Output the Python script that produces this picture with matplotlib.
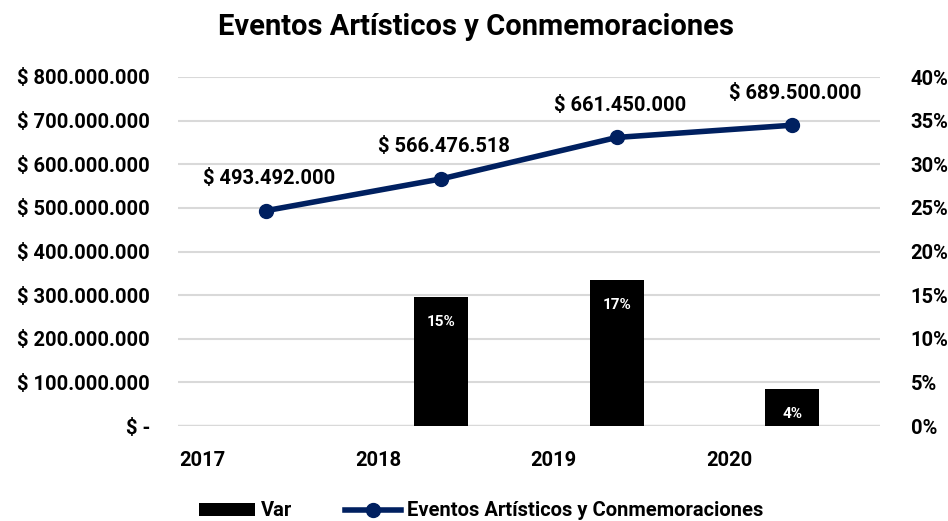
import matplotlib
matplotlib.use("Agg")
import matplotlib.pyplot as plt
from matplotlib.ticker import FuncFormatter, MultipleLocator, FixedLocator
from matplotlib.patches import Patch
from matplotlib.lines import Line2D
import numpy as np

years = ["2017", "2018", "2019", "2020"]
eventos = [493492000, 566476518, 661450000, 689500000]
var = [np.nan, 0.1479, 0.1677, 0.0424]
var_labels = ["", "15%", "17%", "4%"]
title = "Eventos Artísticos y Conmemoraciones"

plt.rcParams['font.family'] = ['Roboto', 'DejaVu Sans']
plt.rcParams['font.weight'] = 'bold'

navy = "#002060"
grid_c = "#d9d9d9"
FS = 14.5

fig = plt.figure(figsize=(9.48, 5.21), dpi=100)
ax = fig.add_axes([178/948, 1-426/521, 702/948, 349/521])
ax2 = ax.twinx()

x = np.arange(len(years))

# bars on secondary axis
ax2.bar(x, var, width=0.31, color="black", zorder=2)
for xi, v, lab in zip(x, var, var_labels):
    if lab:
        ax2.annotate(lab, (xi, v), xytext=(0, -25), textcoords="offset pixels",
                     ha="center", va="center", color="white", fontsize=11, fontweight="bold")
ax2.set_ylim(0, 0.40)
ax2.yaxis.set_major_locator(MultipleLocator(0.05))
ax2.yaxis.set_major_formatter(FuncFormatter(lambda v, p: f"{v*100:.0f}%"))

# line on primary axis
ax.set_zorder(ax2.get_zorder() + 1)
ax.patch.set_visible(False)
ax.plot(x, eventos, color=navy, lw=4, marker="o", ms=10, zorder=3)
for xi, v in zip(x, eventos):
    s = "$ " + f"{v:,.0f}".replace(",", ".")
    ax.annotate(s, (xi, v), xytext=(3, 32), textcoords="offset pixels",
                ha="center", va="center", fontsize=FS, fontweight="bold", color="black")
ax.set_ylim(0, 800000000)
ax.yaxis.set_major_locator(MultipleLocator(100000000))
ax.yaxis.set_major_formatter(FuncFormatter(
    lambda v, p: "$ -" if v == 0 else "$ " + f"{v:,.0f}".replace(",", ".")))
ax.set_xlim(-0.5, len(years) - 0.5)
ax2.set_xlim(-0.5, len(years) - 0.5)

for gv in np.arange(0.05, 0.401, 0.05):
    ax2.axhline(gv, color=grid_c, lw=1.5, zorder=0)
ax2.axhline(0, color=grid_c, lw=2.5, zorder=1)

ax.xaxis.set_major_locator(FixedLocator(x - 0.36))
ax.set_xticklabels(years)
for a in (ax, ax2):
    for sp in a.spines.values():
        sp.set_visible(False)
ax.tick_params(axis="y", which="both", length=0, labelsize=FS, pad=20)
ax.tick_params(axis="x", which="both", length=0, labelsize=FS, pad=18)
ax2.tick_params(axis="y", which="both", length=0, labelsize=FS, pad=22)
for lab in ax.get_yticklabels() + ax.get_xticklabels() + ax2.get_yticklabels():
    lab.set_fontweight("bold")

fig.text(476/948, 1-27/521, title, ha="center", va="center", fontsize=21, fontweight="bold")

handles = [Patch(facecolor="black"),
           Line2D([0], [0], color=navy, lw=4, marker="o", ms=10)]
leg = fig.legend(handles, ["Var", "Eventos Artísticos y Conmemoraciones"],
                 loc="center", bbox_to_anchor=(481/948, 1-511/521), ncol=2, frameon=False,
                 prop={"size": FS, "weight": "bold"}, handlelength=2.8, handleheight=0.6,
                 columnspacing=2.6, handletextpad=0.3)

fig.savefig("out.png", dpi=100)
